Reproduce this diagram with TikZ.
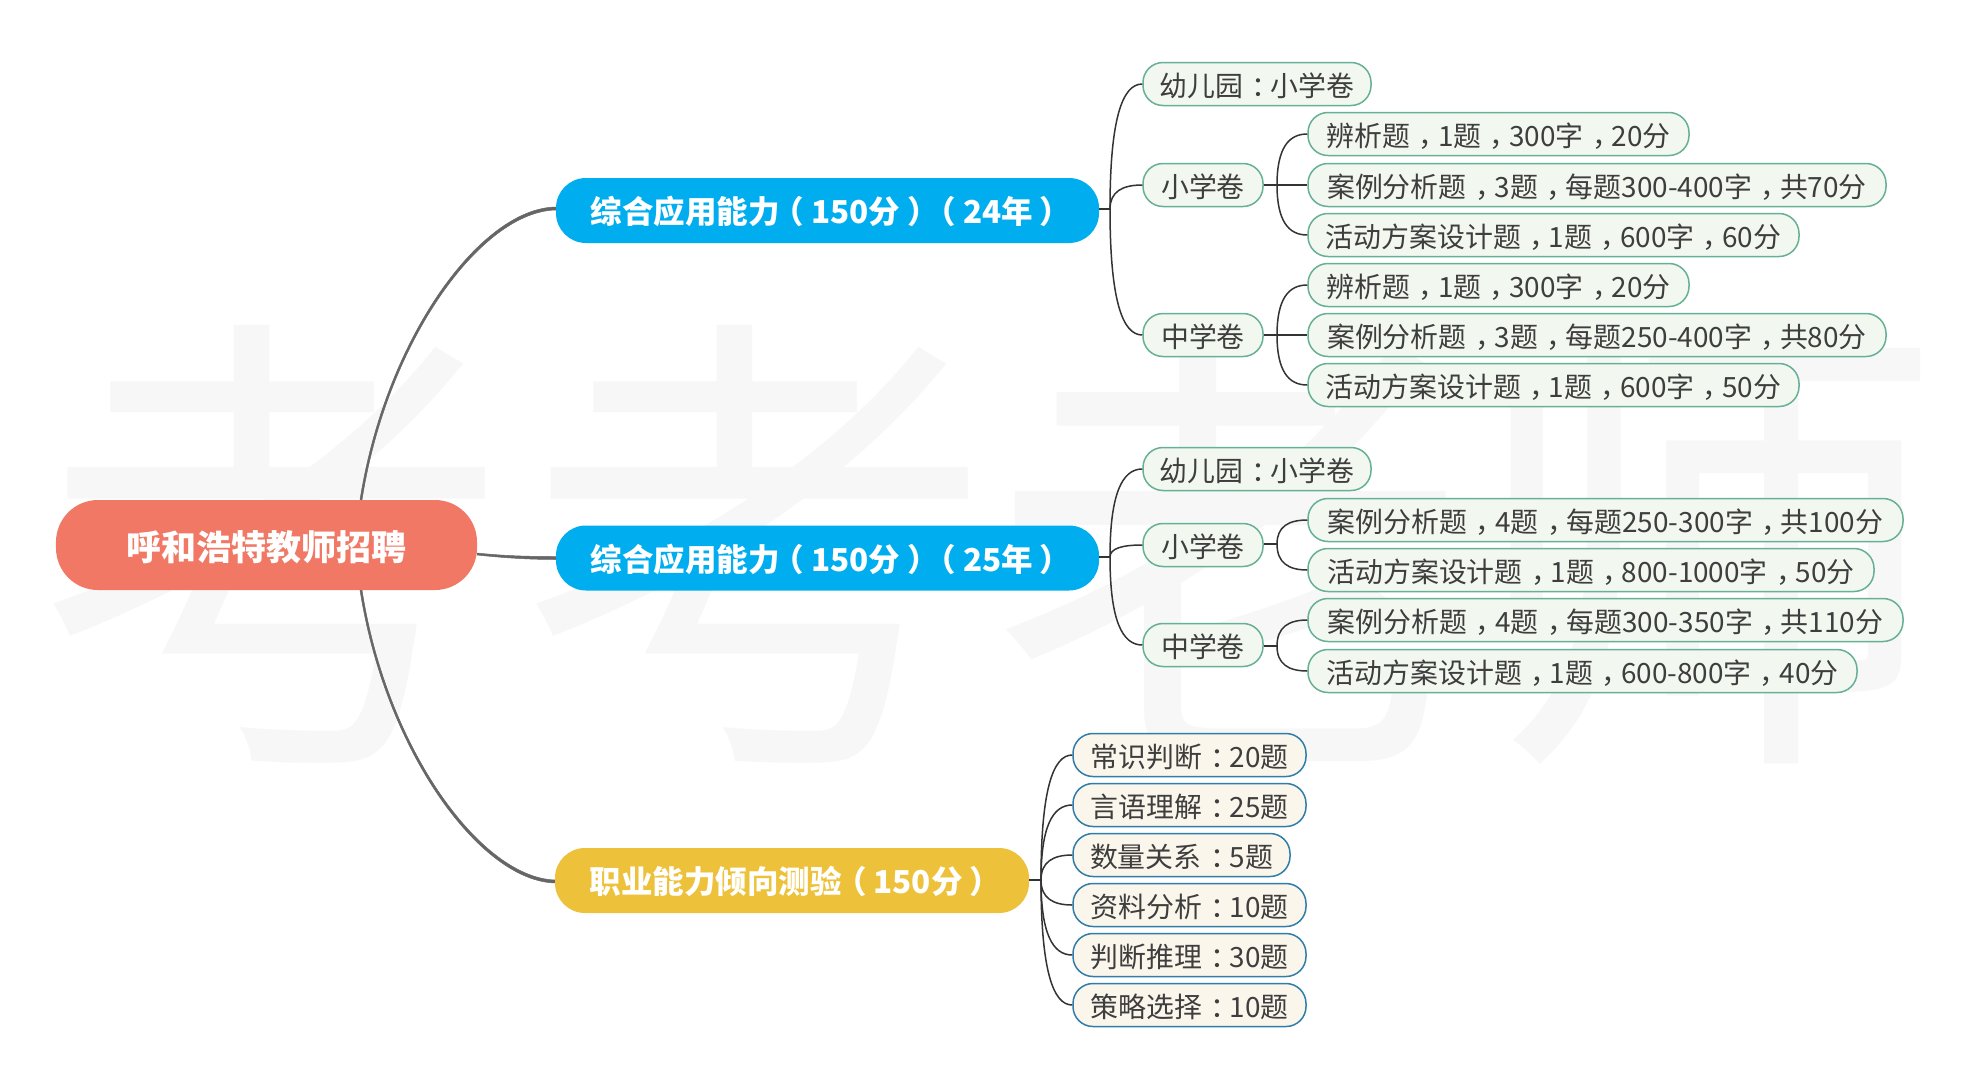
\documentclass[tikz,border=0pt]{standalone}
\usepackage{fontspec}
\setmainfont{Noto Sans CJK SC}
\usetikzlibrary{calc}
\definecolor{ink}{HTML}{3E3E3E}
\definecolor{rootc}{HTML}{F07865}
\definecolor{bluec}{HTML}{00AEEF}
\definecolor{yelc}{HTML}{EDC23A}
\definecolor{gfill}{HTML}{F2F8F0}
\definecolor{gline}{HTML}{66B096}
\definecolor{ofill}{HTML}{FBF6EC}
\definecolor{oline}{HTML}{2F7DA8}
\definecolor{wm}{HTML}{F7F7F7}
\definecolor{thick}{HTML}{666666}
\definecolor{thin}{HTML}{333333}
% full-width punctuation centred in its cell, as the picture prints it
\newcommand\zc{\kern.3em，\kern-.3em}
\newcommand\zm{\kern.32em：\kern-.32em}
\newcommand\zl{\kern-.22em（\kern.22em}
\newcommand\zr{\kern.22em）\kern-.22em}
\newcommand\branch[2]{\draw[subline] (#1) .. controls ($(#1)!0.72!(#1|-#2.west)$) and ($(#2.west)!0.62!(#1|-#2.west)$) .. (#2.west);}
\tikzset{
  x=1bp,y=-1bp,
  pill/.style={rounded corners=20bp,inner sep=0pt,minimum height=43bp,text=ink,line width=1.5bp,
     text height=24bp,text depth=0pt,
     font=\fontsize{27.9bp}{30bp}\selectfont,anchor=center},
  gpill/.style={pill,draw=gline,fill=gfill},
  opill/.style={pill,draw=oline,fill=ofill},
  mainpill/.style={rounded corners=30bp,inner sep=0pt,minimum height=65bp,text=white,
     text height=26.2bp,text depth=0pt,
     font=\fontsize{31.5bp}{34bp}\selectfont\bfseries},
  subline/.style={draw=thin,line width=1.5bp},
  taper/.style={fill=thick,draw=thick,line width=.5bp},
  wmark/.style={text=wm,font=\fontsize{480bp}{480bp}\selectfont,inner sep=0pt,anchor=center},
}
\begin{document}
\begin{tikzpicture}
\useasboundingbox (0,0) rectangle (1987,1080);
\fill[white] (0,0) rectangle (1987,1080);
% watermark
\node[wmark] (w1) at (275,544) {考};
\node[wmark] (w2) at (757,544) {考};
\node[wmark] (w3) at (1230,544) {老};
\node[wmark] (w4) at (1705,544) {师};
% root connectors, tapering towards the root
\coordinate (rt1) at (360,500);
\coordinate (rt2) at (362,500);
\coordinate (rb1) at (360,590);
\coordinate (rb2) at (362,590);
\coordinate (rm) at (477,555);
\coordinate (b1w) at (556,209);
\coordinate (b2w) at (556,558);
\coordinate (y1w) at (556,881);
\draw[taper] (rt1) .. controls (385,340) and (480,208) .. ($(b1w)+(0,-2)$)
   -- ($(b1w)+(0,1)$) .. controls (482,211) and (387,340) .. (rt2) -- cycle;
\draw[taper] (rb1) .. controls (385,750) and (480,882) .. ($(y1w)+(0,2)$)
   -- ($(y1w)+(0,-1)$) .. controls (482,879) and (387,750) .. (rb2) -- cycle;
\draw[taper] (rm) .. controls (505,558) and (530,559.5) .. ($(b2w)+(0,1.5)$)
   -- ($(b2w)+(0,-1.5)$) .. controls (530,556.5) and (505,556) .. ($(rm)+(0,-2)$) -- cycle;
% main nodes
\node[mainpill,fill=rootc,minimum width=421bp,minimum height=90bp,rounded corners=42bp,
      text height=31.6bp,font=\fontsize{35bp}{38bp}\selectfont\bfseries] (root) at (266.5,545) {呼和浩特教师招聘};
\node[mainpill,fill=bluec,minimum width=543bp] (b1) at (827.5,210.5) {综合应用能力\zl 150分\zr\zl 24年\zr};
\node[mainpill,fill=bluec,minimum width=543bp] (b2) at (827.5,558) {综合应用能力\zl 150分\zr\zl 25年\zr};
\node[mainpill,fill=yelc,minimum width=474bp] (y1) at (792,880.5) {职业能力倾向测验\zl 150分\zr};
% first group
\node[gpill,minimum width=228bp] (a0) at (1257,84) {幼儿园\zm 小学卷};
\node[gpill,minimum width=120bp] (a1) at (1203,185) {小学卷};
\node[gpill,minimum width=120bp] (a2) at (1203,335) {中学卷};
\node[gpill,minimum width=381bp] (a11) at (1498.5,134) {辨析题\zc 1题\zc 300字\zc 20分};
\node[gpill,minimum width=578bp] (a12) at (1597,185) {案例分析题\zc 3题\zc 每题300-400字\zc 共70分};
\node[gpill,minimum width=491bp] (a13) at (1553.5,235) {活动方案设计题\zc 1题\zc 600字\zc 60分};
\node[gpill,minimum width=381bp] (a21) at (1498.5,285) {辨析题\zc 1题\zc 300字\zc 20分};
\node[gpill,minimum width=578bp] (a22) at (1597,335) {案例分析题\zc 3题\zc 每题250-400字\zc 共80分};
\node[gpill,minimum width=491bp] (a23) at (1553.5,385) {活动方案设计题\zc 1题\zc 600字\zc 50分};
% second group
\node[gpill,minimum width=228bp] (c0) at (1257,469) {幼儿园\zm 小学卷};
\node[gpill,minimum width=120bp] (c1) at (1203,545) {小学卷};
\node[gpill,minimum width=120bp] (c2) at (1203,645) {中学卷};
\node[gpill,minimum width=595bp] (c11) at (1605.5,520) {案例分析题\zc 4题\zc 每题250-300字\zc 共100分};
\node[gpill,minimum width=566bp] (c12) at (1591,570) {活动方案设计题\zc 1题\zc 800-1000字\zc 50分};
\node[gpill,minimum width=595bp] (c21) at (1605.5,620) {案例分析题\zc 4题\zc 每题300-350字\zc 共110分};
\node[gpill,minimum width=549bp] (c22) at (1582.5,671) {活动方案设计题\zc 1题\zc 600-800字\zc 40分};
% third group
\node[opill,minimum width=233bp] (d1) at (1189.5,755) {常识判断\zm 20题};
\node[opill,minimum width=233bp] (d2) at (1189.5,805) {言语理解\zm 25题};
\node[opill,minimum width=217bp] (d3) at (1181.5,855) {数量关系\zm 5题};
\node[opill,minimum width=233bp] (d4) at (1189.5,905) {资料分析\zm 10题};
\node[opill,minimum width=233bp] (d5) at (1189.5,955) {判断推理\zm 30题};
\node[opill,minimum width=233bp] (d6) at (1189.5,1005) {策略选择\zm 10题};
% junctions
\coordinate (ja) at (1110,209);
\coordinate (jc) at (1110,557);
\coordinate (jd) at (1041,880);
\coordinate (ja1) at (1277,185);
\coordinate (ja2) at (1277,335);
\coordinate (jc1) at (1277,544);
\coordinate (jc2) at (1277,646);
% stems
\draw[subline] (b1.east |- ja) -- (ja);
\draw[subline] (b2.east |- jc) -- (jc);
\draw[subline] (y1.east |- jd) -- (jd);
\draw[subline] (a1.east |- ja1) -- (a12.west |- ja1);
\draw[subline] (a2.east |- ja2) -- (a22.west |- ja2);
\draw[subline] (c1.east |- jc1) -- (jc1);
\draw[subline] (c2.east |- jc2) -- (jc2);
% branches
\branch{ja}{a0}\branch{ja}{a1}\branch{ja}{a2}
\branch{ja1}{a11}\branch{ja1}{a13}
\branch{ja2}{a21}\branch{ja2}{a23}
\branch{jc}{c0}\branch{jc}{c1}\branch{jc}{c2}
\branch{jc1}{c11}\branch{jc1}{c12}
\branch{jc2}{c21}\branch{jc2}{c22}
\branch{jd}{d1}\branch{jd}{d2}\branch{jd}{d3}\branch{jd}{d4}\branch{jd}{d5}\branch{jd}{d6}
\end{tikzpicture}
\end{document}
